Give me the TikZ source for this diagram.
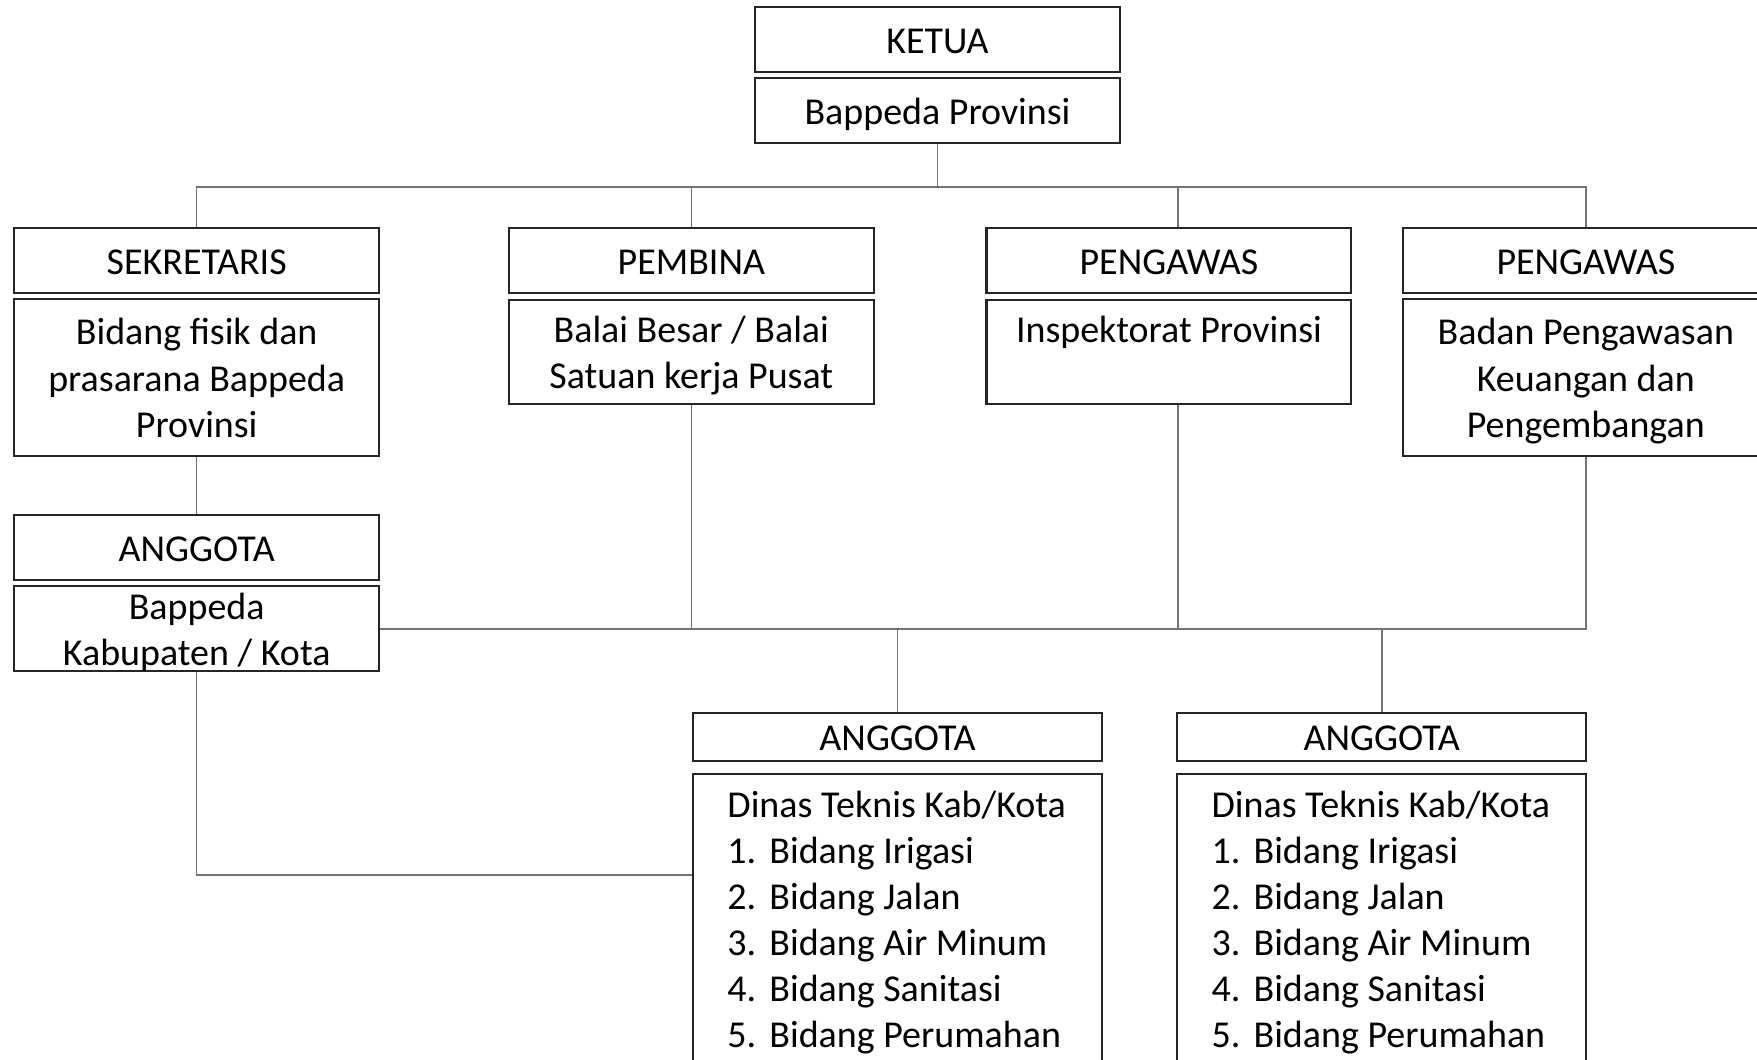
\documentclass[tikz,border=0pt]{standalone}
\usepackage{fontspec}
\setmainfont{Carlito}
\usepackage{tikz}
\usetikzlibrary{calc,positioning}
\newcommand{\teks}{\fontsize{10.8}{13.1}\selectfont}
\newcommand{\tinggi}{\rule[-2.7pt]{0pt}{13.1pt}}
\newcommand{\butir}[2]{\makebox[0.42cm][l]{#1}#2}
\tikzset{
    kotak/.style={draw=black!85,line width=0.6pt,inner sep=0pt,align=center,font=\teks,
        minimum width=3.646cm},
    judul/.style={kotak,minimum height=0.653cm,
        execute at begin node=\tinggi,execute at end node=\tinggi},
    isi/.style={judul,text width=3.5cm,align=flush center},
    garis/.style={draw=black!55,line width=0.45pt},
    every node/.style={font=\teks}
}
\begin{document}
\begin{tikzpicture}[x=0.01cm,y=-0.01cm]
  \useasboundingbox (0,0) rectangle (1757,1059);

  % ketua
  \node[judul] (ketua) at (937.5,39.5) {KETUA};
  \node[judul] (ketuaisi) at (937.5,110.5) {Bappeda Provinsi};

  % baris kedua
  \node[judul] (sekr) at (196.7,260.7) {SEKRETARIS};
  \node[isi,minimum height=1.564cm] (sekrisi) at (196.7,377.5)
    {Bidang fisik dan\\ prasarana Bappeda\\ Provinsi};

  \node[judul] (pemb) at (691.3,260.7) {PEMBINA};
  \node[isi,minimum height=1.04cm] (pembisi) at (691.3,352)
    {Balai Besar / Balai\\ Satuan kerja Pusat};

  \node[judul] (peng1) at (1168.9,260.7) {PENGAWAS};
  \node[isi,minimum height=1.04cm] (peng1isi) at (1168.9,352)
    {Inspektorat Provinsi\\ ~};

  \node[judul] (peng2) at (1585.8,260.7) {PENGAWAS};
  \node[isi,minimum height=1.564cm] (peng2isi) at (1585.8,377.5)
    {Badan Pengawasan\\ Keuangan dan\\ Pengembangan};

  % anggota kabupaten / kota
  \node[judul] (angg) at (196.7,547.7) {ANGGOTA};
  \node[isi,minimum height=0.85cm,inner ysep=-1pt] (anggisi) at (196.7,628.7)
    {Bappeda\\ Kabupaten / Kota};

  % anggota dinas teknis
  \node[judul,minimum width=4.08cm,minimum height=0.48cm] (dinasA) at (897.5,736.6) {ANGGOTA};
  \node[judul,minimum width=4.09cm,minimum height=0.48cm] (dinasB) at (1381.7,736.6) {ANGGOTA};

  \node[kotak,minimum width=4.08cm,anchor=north] (dinasAisi) at (897.5,772.5)
    {\parbox[c][3.27cm][t]{3.4cm}{\rule{0pt}{0.435cm}Dinas Teknis Kab/Kota\\
      \butir{1.}{Bidang Irigasi}\\ \butir{2.}{Bidang Jalan}\\ \butir{3.}{Bidang Air Minum}\\
      \butir{4.}{Bidang Sanitasi}\\ \butir{5.}{Bidang Perumahan}}};
  \node[kotak,minimum width=4.09cm,anchor=north] (dinasBisi) at (1381.7,772.5)
    {\parbox[c][3.27cm][t]{3.4cm}{\rule{0pt}{0.435cm}Dinas Teknis Kab/Kota\\
      \butir{1.}{Bidang Irigasi}\\ \butir{2.}{Bidang Jalan}\\ \butir{3.}{Bidang Air Minum}\\
      \butir{4.}{Bidang Sanitasi}\\ \butir{5.}{Bidang Perumahan}}};

  % garis atas
  \coordinate (busatas) at (0,187);
  \draw[garis] (ketuaisi.south) -- (ketuaisi.south |- busatas);
  \draw[garis] (sekr.north) |- (peng2.north |- busatas) -- (peng2.north);
  \draw[garis] (pemb.north) -- (pemb.north |- busatas);
  \draw[garis] ([xshift=0.09cm]peng1.north) -- ([xshift=0.09cm]peng1.north |- busatas);

  % garis bawah
  \draw[garis] (sekrisi.south) -- (angg.north);
  \draw[garis] (anggisi.east) -| (peng2isi.south);
  \draw[garis] (pembisi.south) -- (pembisi.south |- anggisi.east);
  \draw[garis] ([xshift=0.09cm]peng1isi.south) -- ([xshift=0.09cm]peng1isi.south |- anggisi.east);
  \draw[garis] (dinasA.north) -- (dinasA.north |- anggisi.east);
  \draw[garis] (dinasB.north) -- (dinasB.north |- anggisi.east);

  \coordinate (belok) at (196.7,875);
  \draw[garis] (anggisi.south) -- (belok) -- (belok -| dinasAisi.west);

\end{tikzpicture}
\end{document}
